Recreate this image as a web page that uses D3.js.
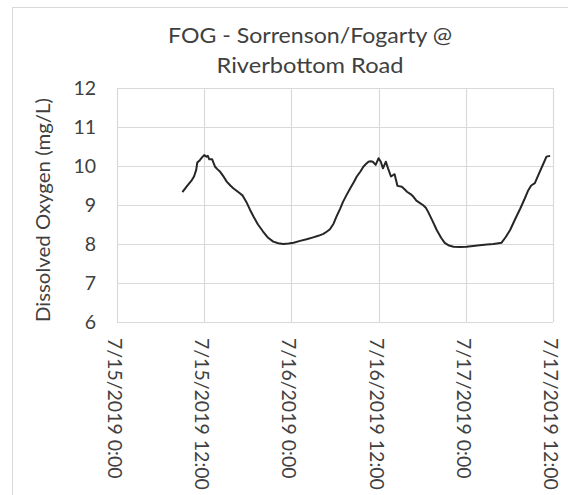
<!DOCTYPE html>
<html>
<head>
<meta charset="utf-8">
<script src="https://cdn.jsdelivr.net/npm/d3@7"></script>
<style>
  html, body { margin: 0; padding: 0; background: #fff; }
  svg { display: block; }
  text { font-family: Lato, "Open Sans", sans-serif; fill: #404040; }
</style>
</head>
<body>
<svg id="chart" width="568" height="495"></svg>
<script>
// ---- data (hours after 7/15/2019 0:00, dissolved oxygen mg/L) ----
const titleLines = ["FOG - Sorrenson/Fogarty @", "Riverbottom Road"];
const yTitle = "Dissolved Oxygen (mg/L)";
const startDate = new Date(2019, 6, 15, 0, 0);
const tickHours = [0, 12, 24, 36, 48, 60];
const tickLabels = ["7/15/2019 0:00", "7/15/2019 12:00", "7/16/2019 0:00", "7/16/2019 12:00", "7/17/2019 0:00", "7/17/2019 12:00"];
const yTicks = [6, 7, 8, 9, 10, 11, 12];
const hours = [
  9.0, 9.6, 10.3, 10.6, 10.9, 11.05, 11.4, 11.7, 12.0, 12.3, 12.5, 12.7, 13.1, 13.5, 13.8, 14.2, 14.7, 15.1, 15.6, 16.0, 16.5, 16.9, 17.3, 17.8,
  18.3, 18.8, 19.4, 20.1, 20.8, 21.5, 22.2, 22.9, 23.6, 24.3, 25.2, 26.1, 27.0, 27.7, 28.4, 28.9, 29.3, 29.8, 30.2, 30.7, 31.1, 31.6, 32.1,
  32.6, 33.0, 33.5, 33.9, 34.3, 34.6, 34.9, 35.2, 35.6, 36.0, 36.3, 36.6, 37.0, 37.3, 37.7, 38.2, 38.6, 39.2, 39.6, 39.9, 40.4, 40.8,
  41.2, 41.7, 42.1, 42.5, 42.8, 43.4, 44.0, 44.6, 45.1, 45.7, 46.3, 47.2, 48.1, 49.0, 49.9, 50.9, 51.8, 52.5, 52.9, 53.5, 54.1, 54.8,
  55.5, 56.1, 56.6, 57.0, 57.5, 58.1, 58.7, 59.1, 59.6
];
const oxygen = [
  9.33, 9.48, 9.64, 9.73, 9.90, 10.09, 10.15, 10.22, 10.28, 10.24, 10.26, 10.17, 10.17, 9.98, 9.92, 9.85, 9.72, 9.60, 9.50, 9.43, 9.36, 9.30, 9.24, 9.08,
  8.88, 8.70, 8.50, 8.32, 8.16, 8.06, 8.02, 8.00, 8.01, 8.03, 8.08, 8.12, 8.17, 8.21, 8.26, 8.32, 8.38, 8.52, 8.70, 8.90, 9.08, 9.26, 9.43,
  9.59, 9.73, 9.86, 9.98, 10.06, 10.11, 10.12, 10.11, 10.03, 10.20, 10.11, 9.94, 10.11, 9.94, 9.73, 9.79, 9.49, 9.47, 9.40, 9.34, 9.28, 9.21,
  9.11, 9.05, 9.00, 8.93, 8.83, 8.60, 8.36, 8.16, 8.03, 7.96, 7.93, 7.92, 7.93, 7.95, 7.97, 7.99, 8.00, 8.02, 8.03, 8.18, 8.36, 8.64,
  8.91, 9.16, 9.38, 9.50, 9.56, 9.82, 10.07, 10.24, 10.26
];

// ---- layout ----
const svg = d3.select("#chart");
const plot = { left: 117, right: 553, top: 88, bottom: 322 };
const hourDate = h => new Date(startDate.getTime() + h * 3600 * 1000);

const x = d3.scaleTime()
  .domain([hourDate(0), hourDate(60)])
  .range([plot.left, plot.right]);
const y = d3.scaleLinear()
  .domain([6, 12])
  .range([plot.bottom, plot.top]);

// chart border
svg.append("rect")
  .attr("x", 12.5).attr("y", 7.5)
  .attr("width", 600).attr("height", 600)
  .attr("fill", "#fff").attr("stroke", "#d9d9d9").attr("stroke-width", 1);

// title
const titleWidths = [284, 187];
svg.append("g").selectAll("text").data(titleLines).join("text")
  .attr("x", 310)
  .attr("y", (d, i) => 43 + i * 30)
  .attr("text-anchor", "middle")
  .style("font-size", "21px")
  .attr("textLength", (d, i) => titleWidths[i])
  .attr("lengthAdjust", "spacingAndGlyphs")
  .attr("fill", "#404040")
  .text(d => d);

// gridlines
const grid = svg.append("g").attr("stroke", "#d9d9d9").attr("stroke-width", 1.2);
grid.selectAll("line.h").data(yTicks).join("line")
  .attr("class", "h")
  .attr("x1", plot.left).attr("x2", plot.right)
  .attr("y1", d => Math.round(y(d)) + 0.5).attr("y2", d => Math.round(y(d)) + 0.5);
grid.selectAll("line.v").data(tickHours).join("line")
  .attr("class", "v")
  .attr("x1", d => Math.round(x(hourDate(d))) + 0.5).attr("x2", d => Math.round(x(hourDate(d))) + 0.5)
  .attr("y1", plot.top).attr("y2", plot.bottom);

// y axis (labels only)
const yAxis = d3.axisLeft(y).tickValues(yTicks).tickSize(0).tickPadding(0).tickFormat(d3.format("d"));
const yG = svg.append("g").attr("transform", `translate(${plot.left - 21},0)`).call(yAxis);
yG.select(".domain").remove();
yG.selectAll("text").style("font-size", "19.5px").attr("fill", "#404040").style("font-family", "Lato, sans-serif");

// x axis (rotated labels)
const xAxis = d3.axisBottom(x)
  .tickValues(tickHours.map(hourDate))
  .tickSize(0)
  .tickFormat((d, i) => tickLabels[i]);
const xG = svg.append("g").attr("transform", `translate(0,${plot.bottom})`).call(xAxis);
xG.select(".domain").remove();
xG.selectAll("text")
  .style("font-size", "19.5px")
  .style("font-family", "Lato, sans-serif")
  .attr("fill", "#404040")
  .attr("text-anchor", "start")
  .attr("dy", null)
  .attr("y", 0)
  .attr("transform", "translate(-2,16) rotate(90)")
  .attr("dominant-baseline", "central");

// y axis title
svg.append("text")
  .attr("transform", "translate(50,210) rotate(-90)")
  .attr("text-anchor", "middle")
  .style("font-size", "20px")
  .attr("textLength", 224)
  .attr("lengthAdjust", "spacingAndGlyphs")
  .attr("fill", "#404040")
  .text(yTitle);

// line
const series = hours.map((h, i) => ({ t: hourDate(h), v: oxygen[i] }));
svg.append("path")
  .datum(series)
  .attr("fill", "none")
  .attr("stroke", "#262626")
  .attr("stroke-width", 2)
  .attr("stroke-linejoin", "round")
  .attr("d", d3.line().x(d => x(d.t)).y(d => y(d.v)));
</script>
</body>
</html>
